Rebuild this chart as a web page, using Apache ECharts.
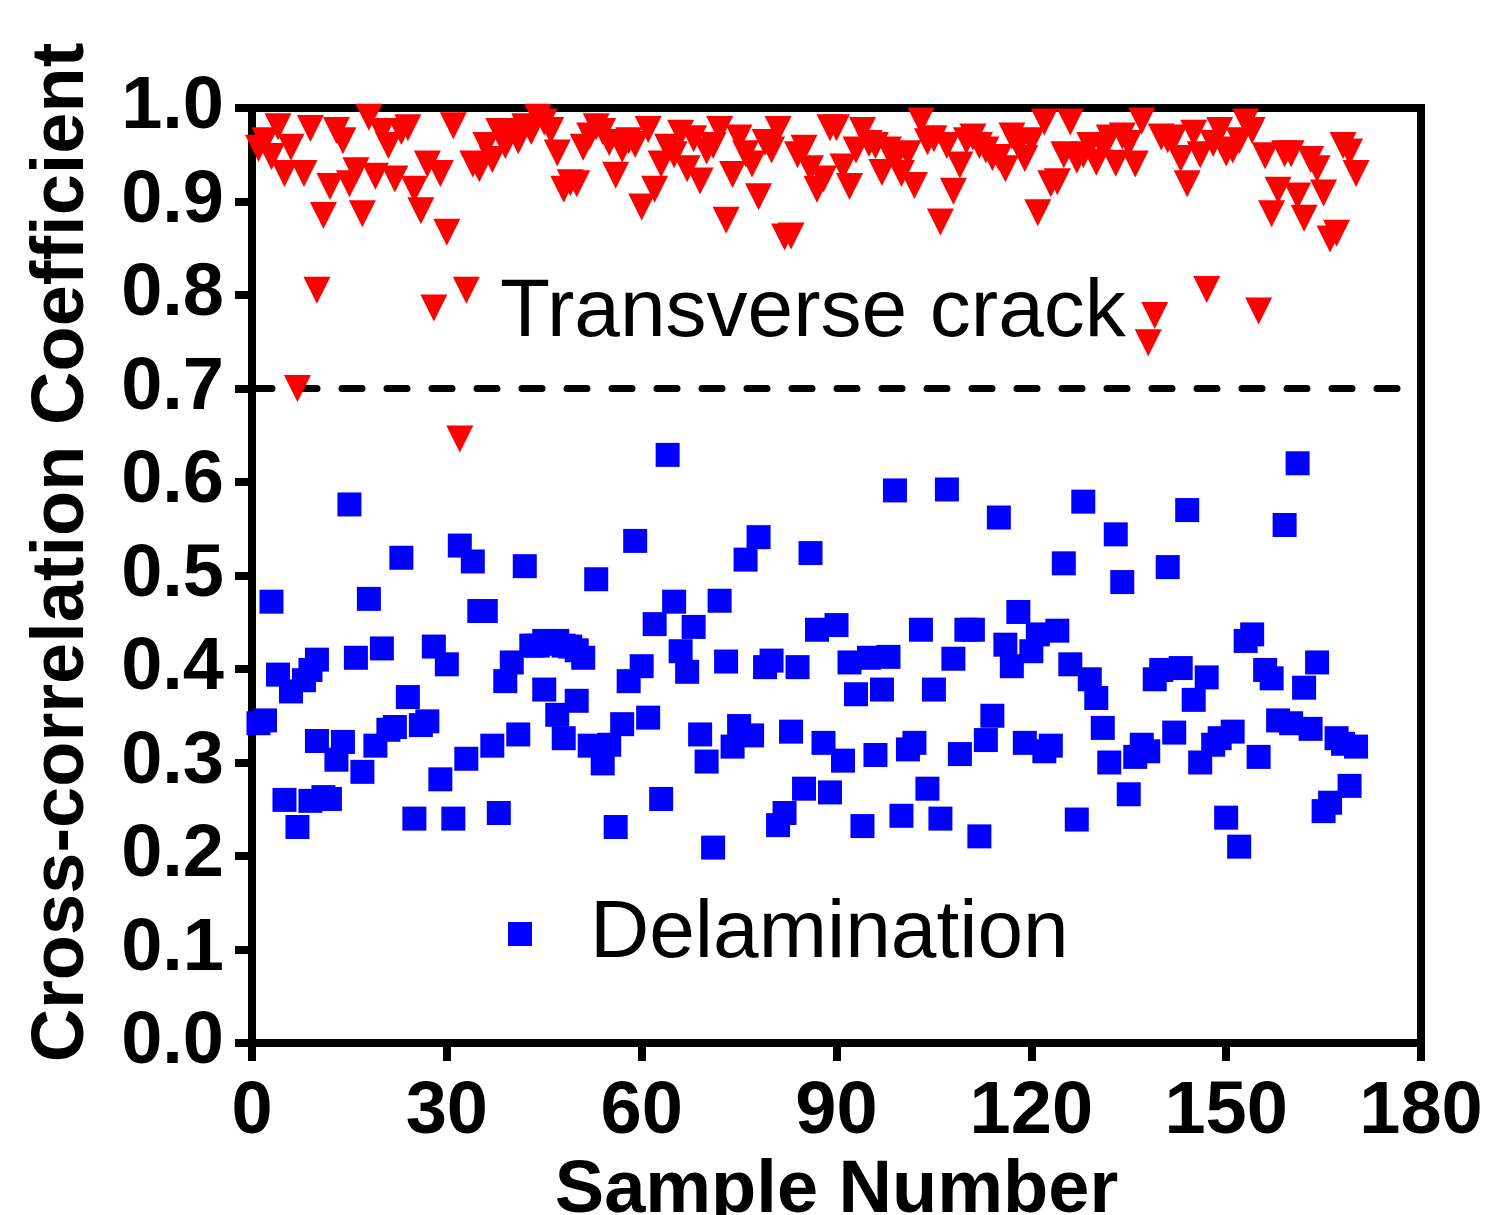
<!DOCTYPE html>
<html>
<head>
<meta charset="utf-8">
<script src="https://cdn.jsdelivr.net/npm/echarts@6/dist/echarts.min.js"></script>
<style>
    html, body { margin: 0; padding: 0; background: #fff; }
    #chart { width: 1487px; height: 1215px; }
</style>
</head>
<body>
<div id="chart"></div>
<script>
// axis ranges
const xMin = 0, xMax = 180, xStep = 30;
const yMin = 0, yMax = 1, yStep = 0.1;
const threshold = 0.7;

// transverse crack (red triangles)
const crackSample = [
    1, 2, 3, 4, 5, 6, 7, 8, 9, 10, 11, 12, 13, 14, 15, 16, 17, 18, 19, 20,
    21, 22, 23, 24, 25, 26, 27, 28, 29, 30, 31, 32, 33, 34, 35, 36, 37, 38, 39, 40,
    41, 42, 43, 44, 45, 46, 47, 48, 49, 50, 51, 52, 53, 54, 55, 56, 57, 58, 59, 60,
    61, 62, 63, 64, 65, 66, 67, 68, 69, 70, 71, 72, 73, 74, 75, 76, 77, 78, 79, 80,
    81, 82, 83, 84, 85, 86, 87, 88, 89, 90, 91, 92, 93, 94, 95, 96, 97, 98, 99, 100,
    101, 102, 103, 104, 105, 106, 107, 108, 109, 110, 111, 112, 113, 114, 115, 116, 117, 118, 119, 120,
    121, 122, 123, 124, 125, 126, 127, 128, 129, 130, 131, 132, 133, 134, 135, 136, 137, 138, 139, 140,
    141, 142, 143, 144, 145, 146, 147, 148, 149, 150, 151, 152, 153, 154, 155, 156, 157, 158, 159, 160,
    161, 162, 163, 164, 165, 166, 167, 168, 169, 170
];
const crackCoef = [
    0.957, 0.965, 0.948, 0.980, 0.930, 0.958, 0.700, 0.930, 0.978, 0.805,
    0.885, 0.916, 0.976, 0.965, 0.919, 0.933, 0.887, 0.990, 0.927, 0.975,
    0.960, 0.924, 0.975, 0.979, 0.913, 0.890, 0.940, 0.786, 0.930, 0.867,
    0.981, 0.646, 0.805, 0.940, 0.935, 0.960, 0.945, 0.975, 0.960, 0.975,
    0.965, 0.980, 0.975, 0.990, 0.985, 0.976, 0.952, 0.913, 0.920, 0.919,
    0.958, 0.970, 0.980, 0.975, 0.963, 0.928, 0.956, 0.965, 0.961, 0.894,
    0.977, 0.913, 0.940, 0.958, 0.950, 0.973, 0.935, 0.967, 0.922, 0.954,
    0.960, 0.977, 0.880, 0.929, 0.968, 0.951, 0.940, 0.905, 0.963, 0.955,
    0.977, 0.862, 0.863, 0.950, 0.957, 0.935, 0.913, 0.924, 0.979, 0.979,
    0.937, 0.916, 0.955, 0.976, 0.962, 0.960, 0.931, 0.955, 0.945, 0.930,
    0.951, 0.917, 0.986, 0.964, 0.967, 0.878, 0.960, 0.911, 0.939, 0.965,
    0.969, 0.960, 0.955, 0.947, 0.947, 0.935, 0.970, 0.960, 0.946, 0.965,
    0.888, 0.985, 0.919, 0.921, 0.950, 0.985, 0.944, 0.950, 0.960, 0.942,
    0.959, 0.968, 0.941, 0.970, 0.962, 0.940, 0.986, 0.749, 0.778, 0.969,
    0.966, 0.968, 0.946, 0.919, 0.973, 0.950, 0.806, 0.962, 0.976, 0.952,
    0.955, 0.965, 0.985, 0.976, 0.783, 0.949, 0.887, 0.912, 0.951, 0.951,
    0.906, 0.882, 0.945, 0.935, 0.909, 0.860, 0.866, 0.960, 0.953, 0.930
];

// delamination (blue squares)
const delamSample = [
    1, 2, 3, 4, 5, 6, 7, 8, 9, 9, 10, 10, 11, 12, 13, 14, 15, 16, 17, 18,
    19, 20, 21, 22, 23, 24, 25, 26, 27, 28, 29, 30, 31, 32, 33, 34, 35, 36, 37, 38,
    39, 40, 41, 42, 43, 44, 45, 45, 46, 47, 47, 48, 48, 49, 50, 50, 51, 52, 53, 54,
    55, 56, 57, 58, 59, 60, 61, 62, 63, 64, 65, 66, 67, 68, 69, 70, 71, 72, 73, 74,
    75, 76, 77, 78, 79, 80, 81, 82, 83, 84, 85, 86, 87, 88, 89, 90, 91, 92, 93, 94,
    95, 96, 97, 98, 99, 100, 101, 102, 103, 104, 105, 106, 107, 108, 109, 110, 111, 112, 113, 114,
    115, 116, 117, 118, 119, 120, 121, 122, 123, 124, 125, 126, 127, 128, 129, 130, 131, 132, 133, 134,
    135, 136, 137, 138, 139, 140, 141, 142, 143, 144, 145, 146, 147, 148, 149, 150, 151, 152, 153, 154,
    155, 156, 157, 158, 159, 160, 161, 162, 163, 164, 165, 166, 167, 168, 169, 170
];
const delamCoef = [
    0.342, 0.345, 0.472, 0.394, 0.260, 0.376, 0.231, 0.388, 0.399, 0.259, 0.410, 0.323, 0.263, 0.261, 0.303, 0.322, 0.576, 0.412, 0.290, 0.475,
    0.318, 0.422, 0.335, 0.338, 0.519, 0.370, 0.240, 0.340, 0.344, 0.424, 0.282, 0.405, 0.240, 0.532, 0.304, 0.515, 0.462, 0.462, 0.318, 0.246,
    0.387, 0.407, 0.330, 0.510, 0.425, 0.425, 0.378, 0.430, 0.427, 0.430, 0.351, 0.425, 0.326, 0.424, 0.420, 0.366, 0.412, 0.318, 0.496, 0.299,
    0.319, 0.231, 0.341, 0.387, 0.537, 0.403, 0.348, 0.448, 0.261, 0.629, 0.472, 0.419, 0.397, 0.445, 0.330, 0.301, 0.209, 0.473, 0.408, 0.317,
    0.339, 0.517, 0.329, 0.541, 0.402, 0.409, 0.233, 0.246, 0.333, 0.402, 0.272, 0.524, 0.442, 0.321, 0.268, 0.447, 0.302, 0.407, 0.373, 0.232,
    0.412, 0.308, 0.378, 0.413, 0.591, 0.243, 0.314, 0.321, 0.442, 0.272, 0.378, 0.240, 0.592, 0.411, 0.309, 0.442, 0.442, 0.221, 0.324, 0.350,
    0.562, 0.426, 0.403, 0.461, 0.321, 0.419, 0.437, 0.312, 0.318, 0.441, 0.513, 0.405, 0.239, 0.579, 0.389, 0.369, 0.337, 0.300, 0.544, 0.493,
    0.266, 0.306, 0.319, 0.312, 0.389, 0.399, 0.509, 0.332, 0.401, 0.570, 0.367, 0.300, 0.391, 0.319, 0.326, 0.241, 0.333, 0.210, 0.430, 0.437,
    0.306, 0.399, 0.390, 0.345, 0.554, 0.342, 0.620, 0.380, 0.336, 0.407, 0.248, 0.257, 0.326, 0.320, 0.275, 0.317
];

const fontFamily = '"Liberation Sans", Arial, Helvetica, sans-serif';

function pairUp(xs, ys) {
    let out = [];
    for (let i = 0; i < xs.length; i++) {
        out.push([xs[i], ys[i]]);
    }
    return out;
}

let chart = echarts.init(document.getElementById('chart'));

let boldText = {
    fontFamily: fontFamily,
    fontSize: 74,
    fontWeight: 'bold',
    color: '#000'
};

let option = {
    backgroundColor: '#ffffff',
    animation: false,
    grid: {
        left: 252,
        top: 108,
        width: 1169,
        height: 935,
        outerBoundsMode: 'none',
        show: true,
        borderColor: '#000',
        borderWidth: 8,
        backgroundColor: 'transparent'
    },
    legend: {
        data: ['Delamination'],
        left: 508,
        top: 893,
        padding: 0,
        itemWidth: 24,
        itemHeight: 24,
        icon: 'rect',
        selectedMode: false,
        textStyle: {
            fontFamily: fontFamily,
            fontSize: 82,
            color: '#000',
            padding: [0, 0, 0, 53]
        }
    },
    graphic: [
        {
            type: 'text',
            left: 500,
            top: 272,
            silent: true,
            style: {
                text: 'Transverse crack',
                font: '82px ' + fontFamily,
                fill: '#000'
            }
        }
    ],
    xAxis: {
        type: 'value',
        min: xMin,
        max: xMax,
        interval: xStep,
        name: 'Sample Number',
        nameLocation: 'middle',
        nameGap: 106,
        nameTextStyle: boldText,
        axisLine: {
            show: true,
            lineStyle: {color: '#000', width: 8}
        },
        axisTick: {
            show: true,
            length: 18,
            lineStyle: {color: '#000', width: 8}
        },
        axisLabel: Object.assign({margin: 33}, boldText),
        splitLine: {show: false}
    },
    yAxis: {
        type: 'value',
        min: yMin,
        max: yMax,
        interval: yStep,
        name: 'Cross-correlation Coefficient',
        nameLocation: 'middle',
        nameGap: 152,
        nameTextStyle: Object.assign({padding: [0, 0, 0, 46]}, boldText),
        axisLine: {
            show: true,
            lineStyle: {color: '#000', width: 8}
        },
        axisTick: {
            show: true,
            length: 17,
            lineStyle: {color: '#000', width: 8}
        },
        axisLabel: Object.assign({
            margin: 28,
            formatter: function (v) {
                return v.toFixed(1);
            }
        }, boldText),
        splitLine: {show: false}
    },
    series: [
        {
            name: 'Delamination',
            type: 'scatter',
            symbol: 'rect',
            symbolSize: 24,
            z: 3,
            itemStyle: {color: '#0000ff', opacity: 1},
            data: pairUp(delamSample, delamCoef)
        },
        {
            name: 'Transverse crack',
            type: 'scatter',
            symbol: 'triangle',
            symbolSize: 27,
            symbolRotate: 180,
            z: 4,
            itemStyle: {color: '#ff0000', opacity: 1},
            data: pairUp(crackSample, crackCoef),
            markLine: {
                silent: true,
                z: 1,
                symbol: 'none',
                label: {show: false},
                lineStyle: {
                    color: '#000',
                    width: 7,
                    type: [20, 25],
                    cap: 'round'
                },
                data: [{yAxis: threshold}]
            }
        }
    ]
};

chart.setOption(option);
</script>
</body>
</html>
